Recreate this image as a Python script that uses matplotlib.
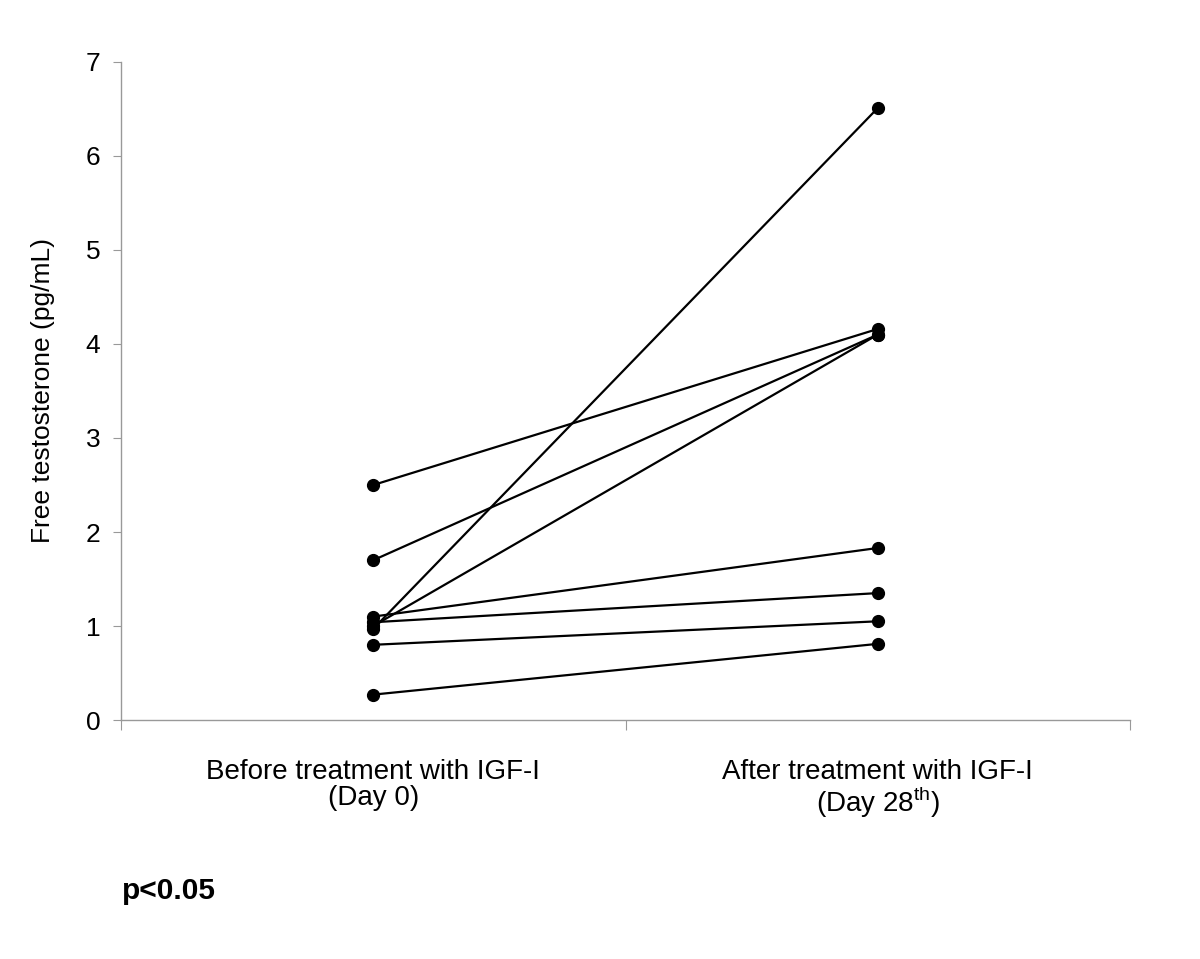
import matplotlib
matplotlib.use("Agg")
import matplotlib.pyplot as plt

plt.rcParams['font.family'] = ['Liberation Sans', 'DejaVu Sans']
plt.rcParams['mathtext.fontset'] = 'custom'
plt.rcParams['mathtext.rm'] = 'Liberation Sans'

# free testosterone (pg/mL) per subject
day0 = [2.50, 1.70, 0.97, 1.00, 1.10, 1.04, 0.80, 0.27]
day28 = [4.16, 4.10, 6.51, 4.10, 1.83, 1.35, 1.05, 0.81]
groups = ["Before treatment with IGF-I\n(Day 0)",
          "After treatment with IGF-I\n(Day 28$^{\\rm th}$)"]
yticks = [0, 1, 2, 3, 4, 5, 6, 7]

fig = plt.figure(figsize=(12, 9.59), dpi=100)
ax = fig.add_axes([121/1200, 1 - 720/959, (1130-121)/1200, (720-62)/959])

xpos = [0.5, 1.5]
for a, b in zip(day0, day28):
    ax.plot(xpos, [a, b], color="black", lw=1.6, marker="o", ms=8.5, zorder=3)

ax.set_xlim(0, 2)
ax.set_ylim(0, 7)
ax.set_yticks(yticks)
ax.set_xticks([0, 1, 2])
ax.set_xticklabels([])
ax.set_xticks(xpos, minor=True)
ax.set_xticklabels(groups, minor=True, fontsize=20, linespacing=1.0)
ax.tick_params(axis="x", which="minor", length=0, pad=28)
ax.tick_params(axis="x", which="major", length=7, direction="out", color="#999999")
ax.tick_params(axis="y", length=6, direction="out", color="#999999", labelsize=19, pad=9)

for s in ["top", "right"]:
    ax.spines[s].set_visible(False)
for s in ["left", "bottom"]:
    ax.spines[s].set_color("#999999")
    ax.spines[s].set_linewidth(1)

ax.set_ylabel("Free testosterone (pg/mL)", fontsize=19, labelpad=22)

fig.text(122/1200, 1 - 891/959, "p<0.05", fontsize=21.5, fontweight="bold",
         va="center", ha="left")

fig.savefig("out.png", dpi=100)
